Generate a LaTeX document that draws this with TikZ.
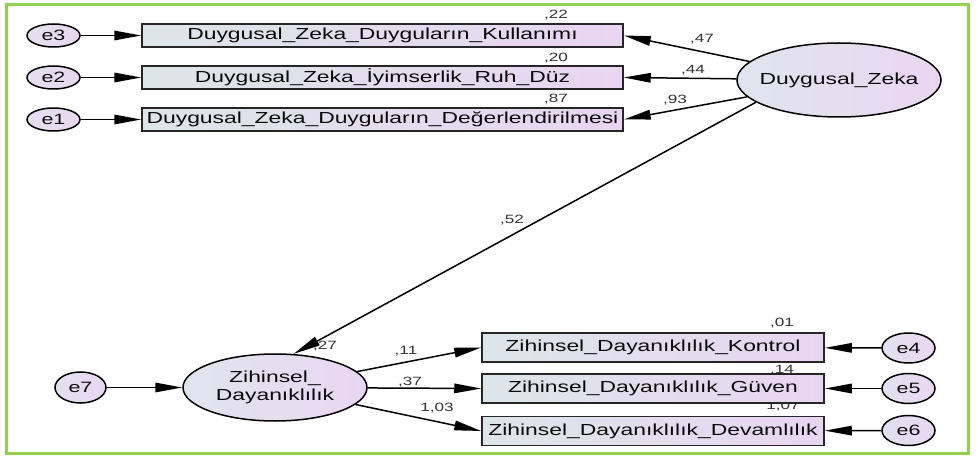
\documentclass[tikz,border=0pt]{standalone}
\usepackage{fontspec}
\usetikzlibrary{arrows.meta,shapes.geometric}
\newfontfamily\af[FakeStretch=1.43]{Liberation Sans}
\definecolor{frameg}{HTML}{92D050}
\definecolor{bxl}{HTML}{DCE6E9}
\definecolor{bxr}{HTML}{E9D5F1}
\definecolor{elr}{HTML}{EAD6F2}
\definecolor{ell}{HTML}{E0E5EE}
\definecolor{txt}{HTML}{0A0A0A}
\tikzset{
  obsbox/.style={draw=black!85, line width=1.5pt, rectangle, inner sep=0pt,
    left color=bxl, right color=bxr, text=txt,
    font=\af\fontsize{16}{18}\selectfont},
  errnode/.style={draw=black, line width=1.5pt, ellipse, inner sep=0pt,
    left color=ell!70!elr, right color=elr, text=txt,
    minimum width=53pt, font=\af\fontsize{15}{17}\selectfont},
  latent/.style={draw=black, line width=1.5pt, ellipse, inner sep=0pt,
    left color=ell, right color=elr, text=txt, align=center,
    font=\af\fontsize{16}{17.5}\selectfont},
  coef/.style={inner sep=0pt, text=black!80, font=\af\fontsize{12}{13}\selectfont},
  conn/.style={line width=1.5pt, -{Triangle[length=27pt,width=9.5pt]}}
}
\begin{document}
\begin{tikzpicture}[x=1pt,y=-1pt]
\useasboundingbox (0,0) rectangle (978,457);
\draw[frameg, line width=3pt] (6,5) rectangle (968,453);

% coefficient labels (drawn first, boxes may cover them)
\node[coef] (l22) at (556,15) {,22};
\node[coef] (l20) at (556,58) {,20};
\node[coef] (l87) at (556,99) {,87};
\node[coef] (l47) at (702,39) {,47};
\node[coef] (l44) at (693,70) {,44};
\node[coef] (l93) at (675,100) {,93};
\node[coef] (l52) at (512,220) {,52};
\node[coef] (l27) at (325,346) {,27};
\node[coef] (l11) at (406,351) {,11};
\node[coef] (l37) at (410,382) {,37};
\node[coef] (l103) at (437,408) {1,03};
\node[coef] (l01) at (782,323) {,01};
\node[coef] (l14) at (782,370) {,14};
\node[coef] (l107) at (783,406) {1,07};

% observed boxes (top)
\node[obsbox, minimum width=481pt, minimum height=23pt] (b1) at (382.5,35.5) {Duygusal\_Zeka\_Duyguların\_Kullanımı};
\node[obsbox, minimum width=481pt, minimum height=23pt] (b2) at (382.5,77.5) {Duygusal\_Zeka\_İyimserlik\_Ruh\_Düz};
\node[obsbox, minimum width=481pt, minimum height=23pt] (b3) at (382.5,119.5) {Duygusal\_Zeka\_Duyguların\_Değerlendirilmesi};

% error nodes (top)
\node[errnode, minimum height=23pt] (e3) at (53.5,35.5) {e3};
\node[errnode, minimum height=23pt] (e2) at (53.5,77.5) {e2};
\node[errnode, minimum height=23pt] (e1) at (53.5,119.5) {e1};

% latent variables
\node[latent, inner xsep=-8pt, minimum width=204pt, minimum height=74pt] (DZ) at (839,80) {Duygusal\_Zeka};
\node[latent, minimum width=184pt, minimum height=67pt] (ZD) at (275,387.5) {Zihinsel\_\\Dayanıklılık};

% bottom boxes
\node[obsbox, minimum width=342pt, minimum height=29pt] (c1) at (653,347.5) {Zihinsel\_Dayanıklılık\_Kontrol};
\node[obsbox, minimum width=342pt, minimum height=29pt] (c2) at (653,388.5) {Zihinsel\_Dayanıklılık\_Güven};
\node[obsbox, minimum width=342pt, minimum height=29pt] (c3) at (653,431) {Zihinsel\_Dayanıklılık\_Devamlılık};

% bottom error nodes
\node[errnode, minimum width=51pt, minimum height=31pt] (e7) at (80.5,387.5) {e7};
\node[errnode, minimum height=30pt] (e4) at (908.5,348) {e4};
\node[errnode, minimum height=30pt] (e5) at (908.5,388.5) {e5};
\node[errnode, minimum height=30pt] (e6) at (908.5,430.5) {e6};

% connectors
\draw[conn] (e3) -- (b1);
\draw[conn] (e2) -- (b2);
\draw[conn] (e1) -- (b3);
\draw[conn] (DZ) -- (b1.east);
\draw[conn] (DZ) -- (b2.east);
\draw[conn] (DZ) -- (b3.east);
\draw[conn] (DZ.195) -- (ZD.61);
\draw[conn] (e7) -- (ZD);
\draw[conn] (ZD) -- (c1.west);
\draw[conn] (ZD) -- (c2.west);
\draw[conn] (ZD) -- (c3.west);
\draw[conn] (e4) -- (c1);
\draw[conn] (e5) -- (c2);
\draw[conn] (e6) -- (c3);
\end{tikzpicture}
\end{document}
